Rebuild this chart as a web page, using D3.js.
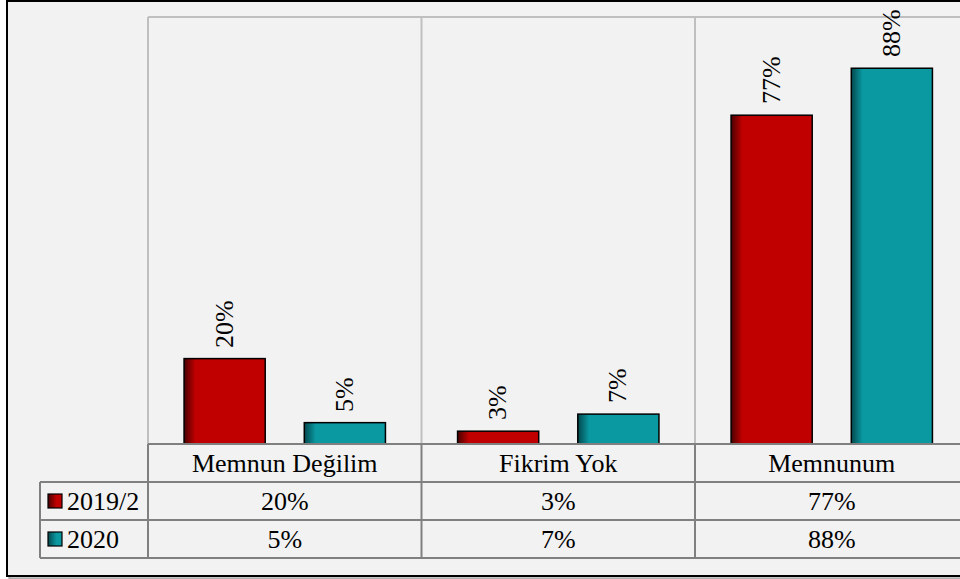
<!DOCTYPE html>
<html><head><meta charset="UTF-8">
<style>
  body { margin: 0; background: #fff; }
  #wrap { position: relative; width: 960px; height: 579px; overflow: hidden; }
  #wrap svg { position: absolute; left: 0; top: 0; }
  .lbl {
    position: absolute;
    white-space: nowrap;
    font-family: "Liberation Serif";
    font-size: 26px;
    line-height: 1;
    color: #000;
  }
</style>
</head>
<body>
<div id="wrap"><svg id="fig" width="960" height="579"></svg></div>
<script src="https://cdn.jsdelivr.net/npm/d3@7/dist/d3.min.js"></script>
<script>
  // chart data
  const categories = ['Memnun Değilim', 'Fikrim Yok', 'Memnunum'];
  const seriesNames = ['2019/2', '2020'];
  const values2019 = [20, 3, 77];
  const values2020 = [5, 7, 88];
  const seriesColors = ['#c00000', '#0a98a1'];
  const seriesDark = ['#4a0000', '#03484c'];

  const series = [values2019, values2020];

  const svg = d3.select('#fig');
  const wrap = d3.select('#wrap');
  const W = 960;

  // layout
  const plotLeft = 148, plotRight = 968.5, plotTop = 17, baseY = 444;
  const tableLeft = 40, rowH = 38;

  // text is laid over the svg as html so the serif face is kept
  function label(x, y, txt, rotated) {
    const d = wrap.append('div').attr('class', 'lbl')
      .style('left', x + 'px').style('top', y + 'px')
      .text(txt);
    if (rotated) {
      d.style('transform-origin', '0 0')
        .style('transform', 'rotate(-90deg) translate(0, -50%)');
    } else {
      d.style('transform', 'translate(-50%, -50%)');
    }
    return d;
  }

  // gradients for the bevelled bars
  const defs = svg.append('defs');
  seriesColors.forEach((c, i) => {
    const g = defs.append('linearGradient').attr('id', 'grad' + i)
      .attr('x1', 0).attr('x2', 1).attr('y1', 0).attr('y2', 0);
    g.append('stop').attr('offset', '0%').attr('stop-color', seriesDark[i]);
    g.append('stop').attr('offset', '14%').attr('stop-color', c);
    g.append('stop').attr('offset', '100%').attr('stop-color', c);

    const s = defs.append('linearGradient').attr('id', 'swatch' + i)
      .attr('x1', 0).attr('x2', 1).attr('y1', 0).attr('y2', 0);
    s.append('stop').attr('offset', '0%').attr('stop-color', seriesDark[i]);
    s.append('stop').attr('offset', '60%').attr('stop-color', c);
    s.append('stop').attr('offset', '100%').attr('stop-color', c);
  });

  // chart box with a soft offset shadow
  [3, 2].forEach((o, k) => {
    svg.append('rect')
      .attr('x', 7 + o).attr('y', 1 + o).attr('width', 970).attr('height', 575)
      .attr('fill', 'none').attr('stroke', '#000')
      .attr('stroke-opacity', 0.12 + 0.1 * k).attr('stroke-width', 2);
  });
  svg.append('rect')
    .attr('x', 7).attr('y', 1).attr('width', 970).attr('height', 575)
    .attr('fill', '#f2f2f2').attr('stroke', '#000').attr('stroke-width', 2);

  // scales
  const x = d3.scaleBand().domain(categories).range([plotLeft, plotRight]);
  const xs = d3.scaleBand().domain(seriesNames).range([0, x.bandwidth()])
    .paddingInner(0.325).paddingOuter(0.3);
  const y = d3.scaleLinear().domain([0, 100]).range([baseY, plotTop]);

  // plot area grid: top line and category separators
  const grid = svg.append('g').attr('stroke', '#bfbfbf').attr('stroke-width', 2);
  grid.append('line')
    .attr('x1', plotLeft).attr('x2', W + 10)
    .attr('y1', y(100)).attr('y2', y(100));
  grid.selectAll('line.sep')
    .data(categories.concat(['end']))
    .enter().append('line')
    .attr('class', 'sep')
    .attr('x1', (d, i) => plotLeft + i * x.step())
    .attr('x2', (d, i) => plotLeft + i * x.step())
    .attr('y1', y(100)).attr('y2', baseY);

  // bars and rotated value labels
  seriesNames.forEach((name, si) => {
    svg.selectAll(null)
      .data(categories)
      .enter().append('rect')
      .attr('x', d => x(d) + xs(name))
      .attr('width', xs.bandwidth())
      .attr('y', (d, ci) => y(series[si][ci]))
      .attr('height', (d, ci) => baseY - y(series[si][ci]))
      .attr('fill', `url(#grad${si})`)
      .attr('stroke', '#000')
      .attr('stroke-width', 1.5);

    categories.forEach((c, ci) => {
      label(x(c) + xs(name) + xs.bandwidth() / 2, y(series[si][ci]) - 11,
        series[si][ci] + '%', true);
    });
  });

  // data table
  const table = svg.append('g').attr('stroke', '#808080').attr('stroke-width', 2);
  table.append('line').attr('x1', plotLeft).attr('x2', W + 10)
    .attr('y1', baseY).attr('y2', baseY);
  [1, 2, 3].forEach(r => {
    table.append('line')
      .attr('x1', tableLeft).attr('x2', W + 10)
      .attr('y1', baseY + r * rowH).attr('y2', baseY + r * rowH);
  });
  table.append('line').attr('x1', tableLeft).attr('x2', tableLeft)
    .attr('y1', baseY + rowH).attr('y2', baseY + 3 * rowH);
  categories.concat(['end']).forEach((d, i) => {
    table.append('line')
      .attr('x1', plotLeft + i * x.step()).attr('x2', plotLeft + i * x.step())
      .attr('y1', baseY).attr('y2', baseY + 3 * rowH);
  });

  // category labels
  categories.forEach(c => {
    label(x(c) + x.bandwidth() / 2, baseY + rowH / 2 + 1, c, false);
  });

  // value rows + legend keys
  seriesNames.forEach((name, si) => {
    const cy = baseY + rowH * (si + 1) + rowH / 2;
    svg.append('rect')
      .attr('x', 48).attr('y', cy - 7)
      .attr('width', 14).attr('height', 14)
      .attr('fill', `url(#swatch${si})`)
      .attr('stroke', '#000').attr('stroke-width', 1.2);
    label(67, cy + 1, name, false).style('transform', 'translate(0, -50%)');

    categories.forEach((c, ci) => {
      label(x(c) + x.bandwidth() / 2, cy + 1, series[si][ci] + '%', false);
    });
  });
</script>
</body></html>
